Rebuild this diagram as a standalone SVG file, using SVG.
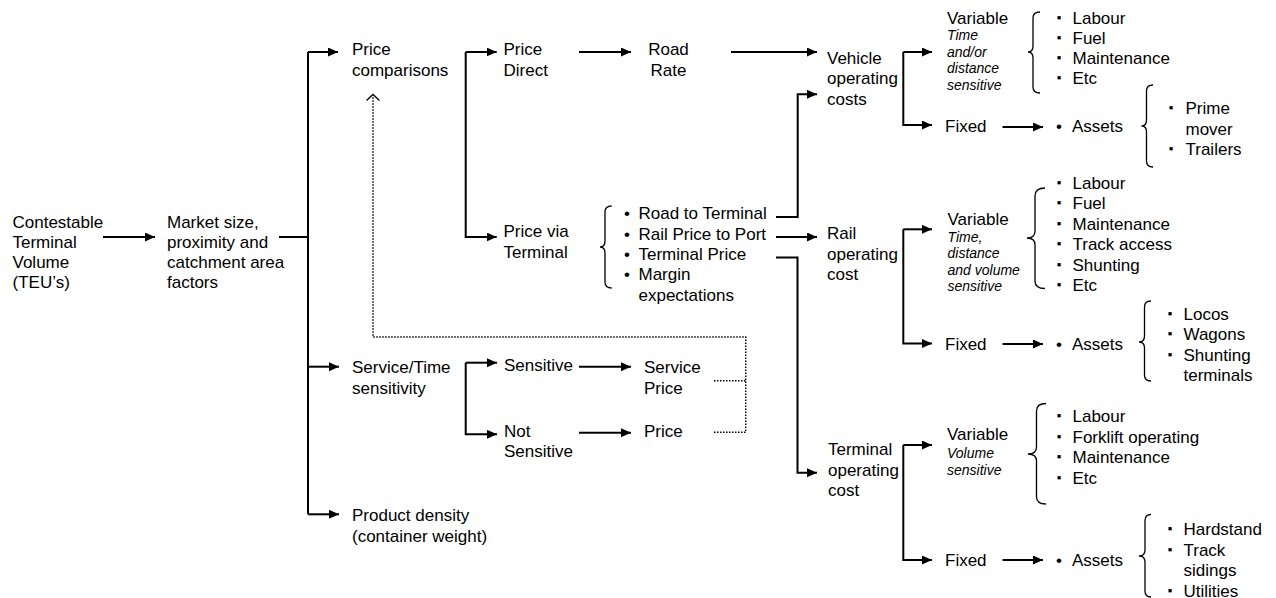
<svg xmlns="http://www.w3.org/2000/svg" width="1276" height="598" viewBox="0 0 1276 598">
<style>
text{font-family:"Liberation Sans",Arial,sans-serif;font-size:17px;fill:#000}
.it{font-style:italic;font-size:14px}
.sq{font-size:13px}
.c{fill:none;stroke:#000;stroke-width:2}
.a{fill:none;stroke:#000;stroke-width:2;marker-end:url(#ah)}
.d{fill:none;stroke:#000;stroke-width:1.5;stroke-dasharray:1.5 1.5}
.br{fill:none;stroke:#000;stroke-width:1.3}
</style>
<defs>
<marker id="ah" markerUnits="userSpaceOnUse" markerWidth="11" markerHeight="10" refX="10" refY="4.5" orient="auto">
<path d="M0,0 L10,4.5 L0,9 z" fill="#000"/>
</marker>
</defs>
<rect width="1276" height="598" fill="#fff"/>
<g id="connectors">
<path class="a" d="M103,237 H155"/>
<path class="c" d="M279,237 H308"/>
<path class="c" d="M308,52 V514.3"/>
<path class="a" d="M308,52 H338"/>
<path class="a" d="M308,366.7 H339"/>
<path class="a" d="M308,514.3 H339"/>
<path class="a" d="M465.7,52 H496.7"/>
<path class="a" d="M465.7,52 V237 H496.7"/>
<path class="a" d="M579,52 H631"/>
<path class="a" d="M731,52 H817"/>
<path class="a" d="M776,217 H797.7 V94.3 H817"/>
<path class="a" d="M776,237 H817"/>
<path class="a" d="M776,257.5 H797.5 V472.7 H817"/>
<path class="a" d="M903.3,52 H932"/>
<path class="a" d="M903.3,52 V125 H932"/>
<path class="a" d="M1002.5,127 H1043"/>
<path class="a" d="M903.3,229.3 H932"/>
<path class="a" d="M903.3,229.3 V343.5 H932"/>
<path class="a" d="M1002.5,344 H1043"/>
<path class="a" d="M903.3,445 H932"/>
<path class="a" d="M903.3,445 V560 H932"/>
<path class="a" d="M1002.5,560 H1043"/>
<path class="a" d="M465.7,362.7 H497"/>
<path class="a" d="M465.7,362.7 V434.3 H497"/>
<path class="a" d="M579,366.7 H631"/>
<path class="a" d="M579,432.7 H631"/>
<path class="d" d="M714,432.3 H745.7 V337 H373 V96"/>
<path class="d" d="M714,380.7 H745.7"/>
<path class="br" d="M366.5,100.5 L373,94.5 L379.5,100.5"/>
</g>
<g id="braces">
<path class="br" d="M611.7,206 Q605,206 605,212 V241 Q605,247 600,247 Q605,247 605,253 V282 Q605,288 611.7,288"/>
<path class="br" d="M1040,12 Q1033,12 1033,18 V46 Q1033,52 1028,52 Q1033,52 1033,58 V87 Q1033,93 1040,93"/>
<path class="br" d="M1153,85 Q1146.5,85 1146.5,91 V120 Q1146.5,126 1141.5,126 Q1146.5,126 1146.5,132 V161 Q1146.5,167 1153,167"/>
<path class="br" d="M1045,188 Q1035,188 1035,196 V231 Q1035,238 1027,238 Q1035,238 1035,245 V281 Q1035,288.5 1045,288.5"/>
<path class="br" d="M1151,301 Q1144.5,301 1144.5,307 V336 Q1144.5,342 1139,342 Q1144.5,342 1144.5,348 V375 Q1144.5,381 1151,381"/>
<path class="br" d="M1046,403.5 Q1036.5,403.5 1036.5,411 V447 Q1036.5,454 1028,454 Q1036.5,454 1036.5,461 V497 Q1036.5,504 1046,504"/>
<path class="br" d="M1151,514.5 Q1145,514.5 1145,520.5 V550 Q1145,556 1139,556 Q1145,556 1145,562 V591 Q1145,597 1151,597"/>
</g>
<g id="contestable"><text x="12.5"><tspan x="12.5" y="228">Contestable</tspan><tspan x="12.5" y="248">Terminal</tspan><tspan x="12.5" y="268">Volume</tspan><tspan x="12.5" y="288">(TEU’s)</tspan></text></g>
<g id="market"><text><tspan x="167" y="228">Market size,</tspan><tspan x="167" y="248">proximity and</tspan><tspan x="167" y="268">catchment area</tspan><tspan x="167" y="288">factors</tspan></text></g>
<g id="price-comparisons"><text><tspan x="352" y="55">Price</tspan><tspan x="352" y="75.5">comparisons</tspan></text></g>
<g id="service-time"><text><tspan x="352" y="373">Service/Time</tspan><tspan x="352" y="393.5">sensitivity</tspan></text></g>
<g id="product-density"><text><tspan x="352" y="521">Product density</tspan><tspan x="352" y="541.5">(container weight)</tspan></text></g>
<g id="price-direct"><text><tspan x="503.5" y="55">Price</tspan><tspan x="503.5" y="75.5">Direct</tspan></text></g>
<g id="price-via-terminal"><text><tspan x="503.5" y="237">Price via</tspan><tspan x="503.5" y="257.5">Terminal</tspan></text></g>
<g id="road-rate"><text text-anchor="middle"><tspan x="668.5" y="55">Road</tspan><tspan x="668.5" y="75.5">Rate</tspan></text></g>
<g id="via-terminal-list">
<text><tspan x="624" y="219">•</tspan><tspan x="624" y="239.5">•</tspan><tspan x="624" y="260">•</tspan><tspan x="624" y="280">•</tspan></text>
<text><tspan x="638.5" y="219">Road to Terminal</tspan><tspan x="638.5" y="239.5">Rail Price to Port</tspan><tspan x="638.5" y="260">Terminal Price</tspan><tspan x="638.5" y="280">Margin</tspan><tspan x="638.5" y="300.5">expectations</tspan></text>
</g>
<g id="sensitive"><text x="504" y="371">Sensitive</text></g>
<g id="not-sensitive"><text><tspan x="504" y="436.5">Not</tspan><tspan x="504" y="457">Sensitive</tspan></text></g>
<g id="service-price"><text><tspan x="644" y="373">Service</tspan><tspan x="644" y="393.5">Price</tspan></text></g>
<g id="price"><text x="644" y="436.5">Price</text></g>
<g id="vehicle-operating-costs"><text><tspan x="827" y="63.5">Vehicle</tspan><tspan x="827" y="84">operating</tspan><tspan x="827" y="104.5">costs</tspan></text></g>
<g id="rail-operating-cost"><text><tspan x="827" y="239">Rail</tspan><tspan x="827" y="259.5">operating</tspan><tspan x="827" y="280">cost</tspan></text></g>
<g id="terminal-operating-cost"><text><tspan x="828" y="455">Terminal</tspan><tspan x="828" y="475.5">operating</tspan><tspan x="828" y="496">cost</tspan></text></g>
<g id="vehicle-variable">
<text x="947" y="24">Variable</text>
<text class="it"><tspan x="947" y="40">Time</tspan><tspan x="947" y="56.5">and/or</tspan><tspan x="947" y="73">distance</tspan><tspan x="947" y="89.5">sensitive</tspan></text>
</g>
<g id="vehicle-variable-list">
<text class="sq" text-anchor="middle"><tspan x="1059" y="21.5">▪</tspan><tspan x="1059" y="41.5">▪</tspan><tspan x="1059" y="61.5">▪</tspan><tspan x="1059" y="81.5">▪</tspan></text>
<text><tspan x="1072.5" y="23.5">Labour</tspan><tspan x="1072.5" y="43.5">Fuel</tspan><tspan x="1072.5" y="63.5">Maintenance</tspan><tspan x="1072.5" y="83.5">Etc</tspan></text>
</g>
<g id="vehicle-fixed"><text x="945" y="131.5">Fixed</text></g>
<g id="vehicle-assets"><text><tspan x="1056" y="131.5">•</tspan><tspan x="1072" y="131.5">Assets</tspan></text></g>
<g id="vehicle-assets-list">
<text class="sq" text-anchor="middle"><tspan x="1171" y="112">▪</tspan><tspan x="1171" y="153">▪</tspan></text>
<text><tspan x="1185.5" y="114">Prime</tspan><tspan x="1185.5" y="134.5">mover</tspan><tspan x="1185.5" y="155">Trailers</tspan></text>
</g>
<g id="rail-variable">
<text x="947.5" y="225">Variable</text>
<text class="it"><tspan x="947.5" y="241.5">Time,</tspan><tspan x="947.5" y="258">distance</tspan><tspan x="947.5" y="274.5">and volume</tspan><tspan x="947.5" y="290.5">sensitive</tspan></text>
</g>
<g id="rail-variable-list">
<text class="sq" text-anchor="middle"><tspan x="1059" y="186.5">▪</tspan><tspan x="1059" y="207">▪</tspan><tspan x="1059" y="227.5">▪</tspan><tspan x="1059" y="248">▪</tspan><tspan x="1059" y="268.5">▪</tspan><tspan x="1059" y="289">▪</tspan></text>
<text><tspan x="1072.5" y="188.5">Labour</tspan><tspan x="1072.5" y="209">Fuel</tspan><tspan x="1072.5" y="229.5">Maintenance</tspan><tspan x="1072.5" y="250">Track access</tspan><tspan x="1072.5" y="270.5">Shunting</tspan><tspan x="1072.5" y="291">Etc</tspan></text>
</g>
<g id="rail-fixed"><text x="945" y="350">Fixed</text></g>
<g id="rail-assets"><text><tspan x="1056" y="350">•</tspan><tspan x="1072" y="350">Assets</tspan></text></g>
<g id="rail-assets-list">
<text class="sq" text-anchor="middle"><tspan x="1170" y="317.5">▪</tspan><tspan x="1170" y="338">▪</tspan><tspan x="1170" y="358.5">▪</tspan></text>
<text><tspan x="1183.5" y="319.5">Locos</tspan><tspan x="1183.5" y="340">Wagons</tspan><tspan x="1183.5" y="360.5">Shunting</tspan><tspan x="1183.5" y="381">terminals</tspan></text>
</g>
<g id="terminal-variable">
<text x="947" y="440">Variable</text>
<text class="it"><tspan x="947" y="458">Volume</tspan><tspan x="947" y="474.5">sensitive</tspan></text>
</g>
<g id="terminal-variable-list">
<text class="sq" text-anchor="middle"><tspan x="1059" y="420">▪</tspan><tspan x="1059" y="440.5">▪</tspan><tspan x="1059" y="461">▪</tspan><tspan x="1059" y="481.5">▪</tspan></text>
<text><tspan x="1072.5" y="422">Labour</tspan><tspan x="1072.5" y="442.5">Forklift operating</tspan><tspan x="1072.5" y="463">Maintenance</tspan><tspan x="1072.5" y="483.5">Etc</tspan></text>
</g>
<g id="terminal-fixed"><text x="945" y="566">Fixed</text></g>
<g id="terminal-assets"><text><tspan x="1056" y="566">•</tspan><tspan x="1072" y="566">Assets</tspan></text></g>
<g id="terminal-assets-list">
<text class="sq" text-anchor="middle"><tspan x="1170" y="533">▪</tspan><tspan x="1170" y="553.5">▪</tspan><tspan x="1170" y="594.5">▪</tspan></text>
<text><tspan x="1183.5" y="535">Hardstand</tspan><tspan x="1183.5" y="555.5">Track</tspan><tspan x="1183.5" y="576">sidings</tspan><tspan x="1183.5" y="596.5">Utilities</tspan></text>
</g>
</svg>
